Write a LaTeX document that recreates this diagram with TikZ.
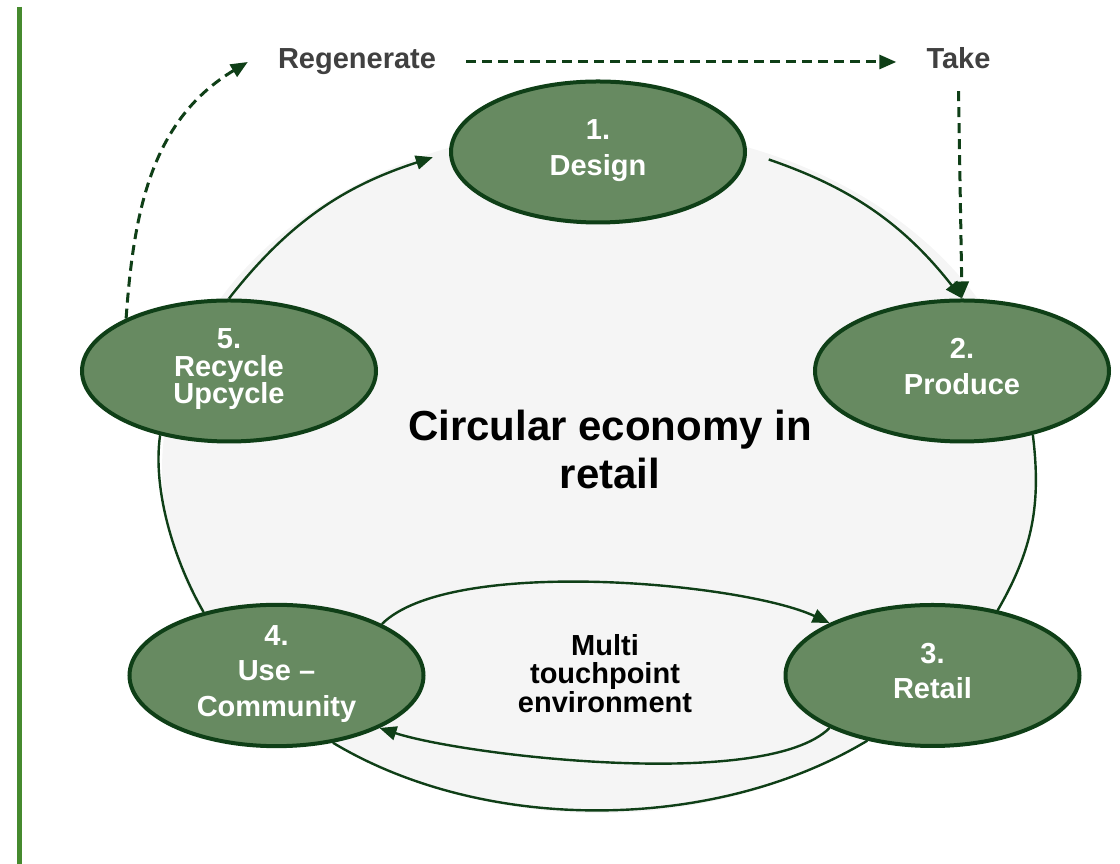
\documentclass[tikz,border=0pt]{standalone}
\usepackage{fontspec}
\setmainfont{Liberation Sans}
\usetikzlibrary{arrows.meta,shapes.geometric}
\definecolor{leafgreen}{HTML}{678A61}
\definecolor{pinegreen}{HTML}{0F3F17}
\definecolor{ringgray}{HTML}{F5F5F5}
\definecolor{labelgray}{HTML}{404040}
\definecolor{bargreen}{HTML}{468A2E}
\begin{document}
\begin{tikzpicture}[x=1pt,y=1pt,>={Triangle[length=17pt,width=14pt]},
    stage/.style={ellipse,draw=pinegreen,line width=4pt,fill=leafgreen,
      minimum width=294pt,minimum height=141pt,inner sep=0pt,align=center,
      text=white,text depth=9pt,font=\fontsize{29}{35.5}\selectfont\bfseries},
    flow/.style={draw=pinegreen,line width=2.4pt},
    cue/.style={draw=pinegreen,line width=3pt,dash pattern=on 10pt off 6pt},
    tag/.style={text=labelgray,font=\fontsize{29}{34}\selectfont\bfseries,
      inner xsep=30pt,inner ysep=22pt,text height=14pt,text depth=0pt}]
  \useasboundingbox (0,0) rectangle (1120,864);
  % side bar
  \draw[bargreen,line width=4.5pt] (19.5,857) -- (19.5,0);
  % ring behind the stages
  \coordinate (ring) at (599,394);
  \fill[ringgray] (ring) ellipse[x radius=437,y radius=343];
  % stages
  \node[stage] (design) at (598,712) {1.\\Design};
  \node[stage] (produce) at (962,493) {2.\\Produce};
  \node[stage] (retail) at (932.5,188.5) {3.\\Retail};
  \node[stage] (use) at (276.5,188.5) {4.\\Use --\\Community};
  \node[stage,font=\fontsize{29}{27.5}\selectfont\bfseries] (recycle) at (229,493) {5.\\Recycle\\Upcycle};
  \node[font=\fontsize{42}{48}\selectfont\bfseries,align=center] (title) at (610,415) {Circular economy in\\retail};
  \node[font=\fontsize{29}{28.5}\selectfont\bfseries,align=center] (touch) at (605,190.5) {Multi\\touchpoint\\environment};
  \node[tag] (regen) at (357,802) {Regenerate};
  \node[tag] (take) at (958.5,802) {Take};
  % outer loop
  \draw[flow,->,shorten >=17pt] (recycle.north) to[out=52,in=198] (design.west);
  \draw[flow,->,shorten <=23pt] (design.east) to[out=-19,in=128] (produce.north);
  \draw[flow] (produce.-42) to[out=-83,in=60] (retail.45);
  \draw[flow] (retail.-135) to[out=211,in=-31,looseness=0.85] (use.-50);
  \draw[flow] (use.139) to[out=120,in=262,looseness=0.8] (recycle.-137);
  % inner loop
  \draw[flow,->] (use.26) to[out=45,in=155,looseness=0.55] (retail.153);
  \draw[flow,->] (retail.207) to[out=225,in=-18,looseness=0.51] (use.-27);
  % regenerate / take
  \draw[cue,->] (recycle.153) to[out=86,in=211] (regen.west);
  \draw[cue,->] (regen.east) -- (take.west);
  \draw[cue,->] (take.south) -- (produce.north);
\end{tikzpicture}
\end{document}
